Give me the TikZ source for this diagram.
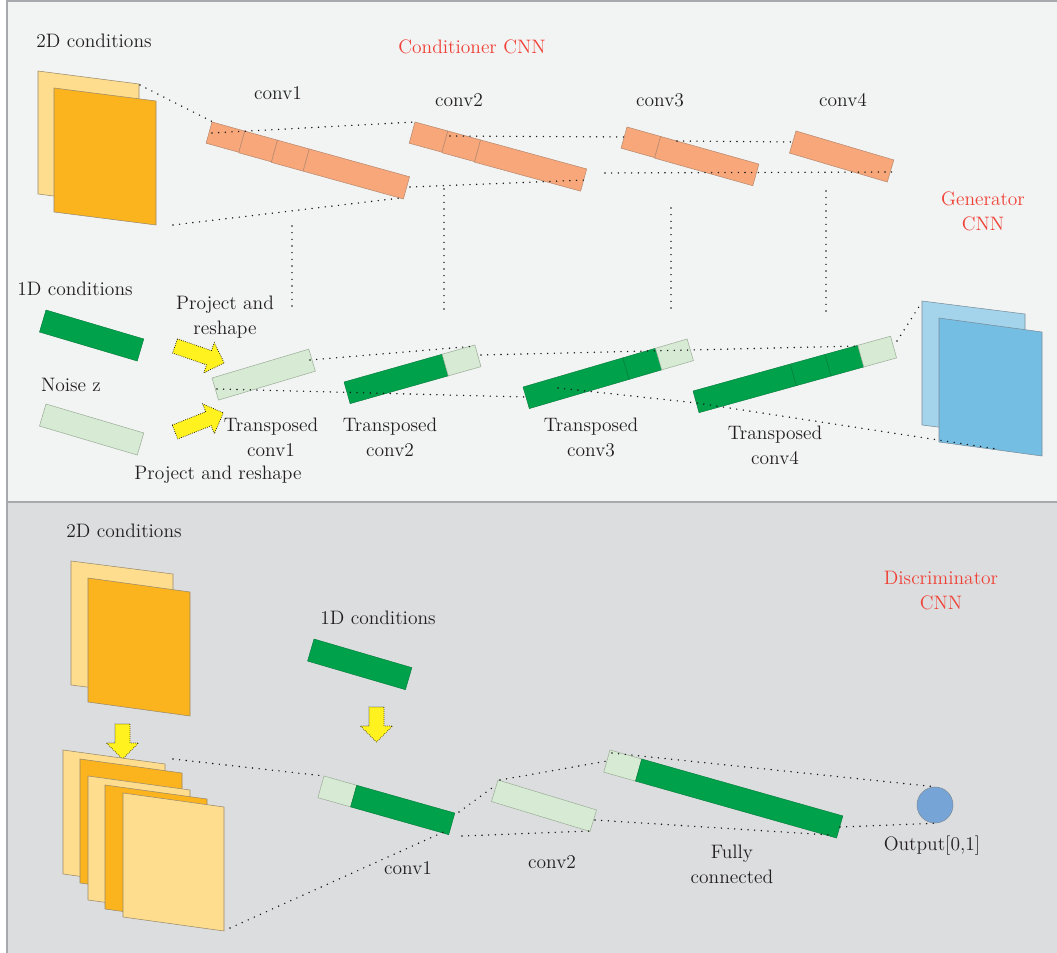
\documentclass[tikz,border=0pt]{standalone}
\usetikzlibrary{calc}
\definecolor{topbg}{HTML}{F2F3F3}
\definecolor{botbg}{HTML}{DCDDDE}
\definecolor{bordc}{HTML}{A7A9AC}
\definecolor{txtc}{HTML}{231F20}
\definecolor{redc}{HTML}{EF4136}
\definecolor{salc}{HTML}{F7A779}
\definecolor{sald}{HTML}{B88A70}
\definecolor{lorc}{HTML}{FEDD8E}
\definecolor{orc}{HTML}{FBB31E}
\definecolor{pland}{HTML}{9A8A6A}
\definecolor{dgc}{HTML}{00A14B}
\definecolor{lgc}{HTML}{D7EAD4}
\definecolor{lgd}{HTML}{9DAF9A}
\definecolor{lbc}{HTML}{A3D4EC}
\definecolor{bc}{HTML}{74BEE3}
\definecolor{bd}{HTML}{7A8C99}
\definecolor{yelc}{HTML}{FFF21F}
\definecolor{circc}{HTML}{77A4D7}
\tikzset{
  lbl/.style={text=txtc, font=\fontsize{14.6}{18.75}\selectfont, inner sep=0pt, align=center},
  redlbl/.style={lbl, text=redc},
  dots/.style={draw=black!90, line width=1.2pt, dash pattern=on 0pt off 5pt, line cap=round},
  salm/.style={fill=salc, draw=sald, line width=0.4pt},
  dgr/.style={fill=dgc, draw=dgc!75!black, line width=0.3pt},
  lgr/.style={fill=lgc, draw=lgd, line width=0.4pt},
  lpl/.style={fill=lorc, draw=pland, line width=0.4pt},
  opl/.style={fill=orc, draw=pland, line width=0.4pt},
  lbpl/.style={fill=lbc, draw=bd, line width=0.4pt},
  bpl/.style={fill=bc, draw=bd, line width=0.4pt},
  yarr/.style={fill=yelc, draw=black, line width=0.5pt, densely dotted},
}
\newcommand\seg[4]{\path[#1] (#2,0) -- (#3,0) -- (#3,#4) -- (#2,#4) -- cycle;}
\newcommand\plane[5]{\path[#1] (#2) -- ++(#3,#4) -- ++(0,#5) -- ++(-#3,-#4) -- cycle;}
\newcommand\yarrow[3]{%
  \begin{scope}[shift={(#1)},rotate=#2]
    \path[yarr] (0,-7.5) -- ({#3-16},-7.5) -- ({#3-16},-16) -- (#3,0) -- ({#3-16},16) -- ({#3-16},7.5) -- (0,7.5) -- cycle;
  \end{scope}}
\begin{document}
\begin{tikzpicture}[x=0.75pt,y=-0.75pt]
\useasboundingbox (0,0) rectangle (1057,953);
\path[fill=white] (0,0) rectangle (1057,953);
\path[fill=topbg, draw=bordc, line width=0.8pt] (7,1) rectangle (1062,502);
\path[fill=botbg, draw=bordc, line width=0.8pt] (7,502) rectangle (1062,958);

%% ---------- Conditioner CNN ----------
\node[lbl] (t2d) at (94,41) {2D conditions};
\node[redlbl] (tcond) at (472,47) {Conditioner CNN};
\node[lbl] (tc1) at (278,93) {conv1};
\node[lbl] (tc2) at (459,100) {conv2};
\node[lbl] (tc3) at (660,100) {conv3};
\node[lbl] (tc4) at (843,100) {conv4};
\node[redlbl] (tgen) at (983,211) {Generator\\CNN};

\plane{lpl}{38,71}{101}{13}{123}
\plane{opl}{54,88}{102}{13}{124}

\begin{scope}[shift={(212,122)},rotate=-15.5]
  \seg{salm}{0}{34}{22}\seg{salm}{34}{68}{22.5}\seg{salm}{68}{101}{23}\seg{salm}{101}{205}{23}
\end{scope}
\begin{scope}[shift={(415,122)},rotate=-15.3]
  \seg{salm}{0}{34}{22}\seg{salm}{34}{68}{22.5}\seg{salm}{68}{178}{23}
\end{scope}
\begin{scope}[shift={(627,127)},rotate=-15.7]
  \seg{salm}{0}{35}{22}\seg{salm}{35}{137}{22.5}
\end{scope}
\begin{scope}[shift={(796,131)},rotate=-16.5]
  \seg{salm}{0}{102}{23}
\end{scope}

\coordinate (a1) at (140,85);  \coordinate (a2) at (213,122);
\coordinate (b1) at (173,225); \coordinate (b2) at (400,198);
\coordinate (c1) at (212,133); \coordinate (c2) at (415,122);
\coordinate (d1) at (410,187); \coordinate (d2) at (586,180);
\coordinate (e1) at (450,136); \coordinate (e2) at (626,137);
\coordinate (f1) at (605,173); \coordinate (f2) at (892,172);
\coordinate (g1) at (677,141); \coordinate (g2) at (795,142);
\draw[dots] (a1) -- (a2);
\draw[dots] (b1) -- (b2);
\draw[dots] (c1) -- (c2);
\draw[dots] (d1) -- (d2);
\draw[dots] (e1) -- (e2);
\draw[dots] (f1) -- (f2);
\draw[dots] (g1) -- (g2);
\coordinate (v1a) at (292,226); \coordinate (v1b) at (292,307);
\coordinate (v2a) at (444,189); \coordinate (v2b) at (444,312);
\coordinate (v3a) at (671,208); \coordinate (v3b) at (671,310);
\coordinate (v4a) at (826,191); \coordinate (v4b) at (826,312);
\draw[dots] (v1a) -- (v1b);
\draw[dots] (v2a) -- (v2b);
\draw[dots] (v3a) -- (v3b);
\draw[dots] (v4a) -- (v4b);

%% ---------- Generator CNN ----------
\node[lbl] (t1d) at (75,289) {1D conditions};
\node[lbl] (tpr1) at (225,317) {Project and\\reshape};
\node[lbl] (tnz) at (71,385) {Noise z};
\node[lbl] (ttc1) at (271,437) {Transposed\\conv1};
\node[lbl] (tpr2) at (218,475) {Project and reshape};
\node[lbl] (ttc2) at (390,437) {Transposed\\conv2};
\node[lbl] (ttc3) at (591,437) {Transposed\\conv3};
\node[lbl] (ttc4) at (775,445) {Transposed\\conv4};

\begin{scope}[shift={(46,310)},rotate=-16.5]
  \seg{dgr}{0}{102}{23}
\end{scope}
\begin{scope}[shift={(46,404)},rotate=-16.5]
  \seg{lgr}{0}{102}{23}
\end{scope}
\yarrow{175,346}{-19}{52}
\yarrow{175,432}{21.6}{52}

\begin{scope}[shift={(212,378)},rotate=16.6]
  \seg{lgr}{0}{101}{23}
\end{scope}
\begin{scope}[shift={(344,382)},rotate=15.8]
  \seg{dgr}{0}{102}{22.5}\seg{lgr}{102}{136}{22.5}
\end{scope}
\begin{scope}[shift={(523,387)},rotate=16.3]
  \seg{dgr}{0}{104}{22.5}\seg{dgr}{104}{138}{22.5}\seg{lgr}{138}{171}{22.5}
\end{scope}
\begin{scope}[shift={(693,391)},rotate=15.5]
  \seg{dgr}{0}{101}{22.5}\seg{dgr}{101}{137}{22.5}\seg{dgr}{137}{171}{22.5}\seg{lgr}{171}{205}{22.5}
\end{scope}

\plane{lbpl}{922,301}{103}{13}{124}
\plane{bpl}{939,318}{103}{14}{124}

\coordinate (h1) at (310,360); \coordinate (h2) at (476,346);
\coordinate (i1) at (481,355); \coordinate (i2) at (858,346);
\coordinate (j1) at (217,389); \coordinate (j2) at (525,397);
\coordinate (k1) at (558,388); \coordinate (k2) at (697,403); \coordinate (k3) at (997,449);
\coordinate (l1) at (897,341); \coordinate (l2) at (922,302);
\draw[dots] (h1) -- (h2);
\draw[dots] (i1) -- (i2);
\draw[dots] (j1) -- (j2);
\draw[dots] (k1) -- (k2) -- (k3);
\draw[dots] (l1) -- (l2);

%% ---------- Discriminator CNN ----------
\node[lbl] (t2db) at (124,531) {2D conditions};
\node[lbl] (t1db) at (378,618) {1D conditions};
\node[redlbl] (tdis) at (941,591) {Discriminator\\CNN};
\node[lbl] (tdc1) at (408,868) {conv1};
\node[lbl] (tdc2) at (552,862) {conv2};
\node[lbl] (tfc) at (732,864) {Fully\\connected};
\node[lbl] (tout) at (932,846) {Output[0,1]};

\plane{lpl}{71,561}{102}{13}{124}
\plane{opl}{88,578}{102}{14}{124}
\yarrow{122.5,724}{-90}{35}
\plane{lpl}{63,750}{102}{14}{124}
\plane{opl}{80,759}{102}{14}{124}
\plane{lpl}{88,776}{102}{14}{124}
\plane{opl}{105,785}{102}{14}{124}
\plane{lpl}{123,793}{101}{14}{124}

\begin{scope}[shift={(314,639)},rotate=-16.3]
  \seg{dgr}{0}{102}{23}
\end{scope}
\yarrow{376.5,707}{-90}{35}
\begin{scope}[shift={(324,776)},rotate=-15.8]
  \seg{lgr}{0}{34}{22.5}\seg{dgr}{34}{136}{22.5}
\end{scope}
\begin{scope}[shift={(498,780)},rotate=-16.9]
  \seg{lgr}{0}{103}{22.5}
\end{scope}
\begin{scope}[shift={(610,750)},rotate=-15.8]
  \seg{lgr}{0}{33}{23}\seg{dgr}{33}{242}{23}
\end{scope}
\node[circle, fill=circc, draw=bd, line width=0.4pt, minimum size=27pt, inner sep=0pt] (outc) at (935,805) {};

\coordinate (m1) at (173,759); \coordinate (m2) at (324,776);
\coordinate (n1) at (230,928); \coordinate (n2) at (448,830);
\coordinate (o1) at (459,812); \coordinate (o2) at (496,785);
\coordinate (p1) at (500,780); \coordinate (p2) at (607,761);
\coordinate (q1) at (462,836); \coordinate (q2) at (590,831);
\coordinate (r1) at (595,820); \coordinate (r2) at (830,835);
\coordinate (s1) at (612,753);
\coordinate (u1) at (840,827);
\draw[dots] (m1) -- (m2);
\draw[dots] (n1) -- (n2);
\draw[dots] (o1) -- (o2);
\draw[dots] (p1) -- (p2);
\draw[dots] (q1) -- (q2);
\draw[dots] (r1) -- (r2);
\draw[dots] (s1) -- (outc.north);
\draw[dots] (u1) -- (outc.south);
\end{tikzpicture}
\end{document}
